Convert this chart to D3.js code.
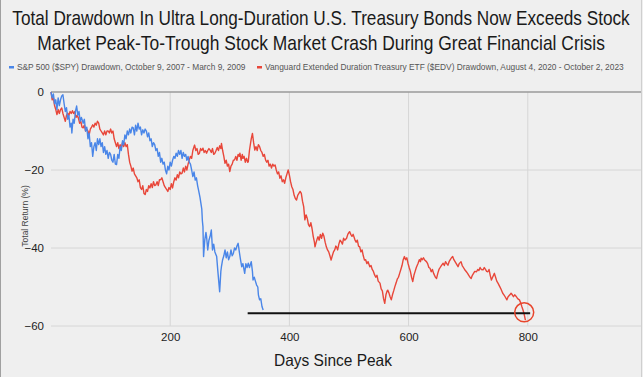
<!DOCTYPE html>
<html>
<head>
<meta charset="utf-8">
<script src="https://cdnjs.cloudflare.com/ajax/libs/d3/7.8.5/d3.min.js"></script>
<style>
  body { margin: 0; background: #efefef; }
  svg { display: block; font-family: "Liberation Sans", Arial, sans-serif; }
</style>
</head>
<body>
<div class="chart"></div>
<script>
// S&P 500 drawdown, trading days since peak (Oct 9 2007)
var spyDays = [0,2,4,6,8,10,12,14,16,18,20,22,24,26,28,30,32,34,35,37,39,41,43,45,47,49,51,54,56,58,60,62,64,66,68,70,72,74,76,78,80,82,84,86,88,90,92,94,96,98,100,102,104,106,108,110,112,114,116,118,120,122,124,126,128,130,132,134,136,138,140,142,144,146,148,150,152,154,156,158,160,162,164,166,168,170,172,174,176,178,180,182,184,186,188,190,192,194,196,198,200,202,204,206,208,210,212,214,216,218,220,222,224,226,228,230,232,234,236,238,240,242,244,246,248,250,252,253,254,255,256,258,260,261,263,265,267,269,271,273,275,278,280,283,285,286,288,290,292,294,296,298,300,302,304,306,308,310,312,314,316,318,320,322,325,327,329,331,333,336,338,339,341,343,345,347,348,350,352,354,356];
var spyValues = [0,-1.5,-0.5,-3,-2,-4.5,-1.5,-3.5,-2,-1,-0.7,-3,-5,-4,-7,-6,-9,-8,-10.5,-7,-8,-5,-3.6,-6,-5,-7.5,-6.5,-8,-7,-10,-9,-12,-10.5,-14,-13,-16.5,-14,-13,-15,-12,-13.5,-12,-14,-13,-15.5,-14,-16,-15,-17,-15.5,-16,-17.5,-18,-16,-18.5,-18.6,-16,-17,-14,-15,-12.5,-13.5,-11,-12,-10,-11,-9.5,-10.5,-9,-9.2,-11,-8.5,-10,-8,-9.5,-9,-11,-9.7,-10.5,-9.5,-10,-11.5,-10.5,-12.5,-12,-14,-13,-13.5,-15,-14.5,-16.5,-15.5,-18,-17,-18.5,-18,-20,-21,-19,-20,-18,-19,-17.5,-16.5,-17,-15.7,-16.5,-15,-16,-15,-17,-15.5,-16.5,-16,-17.5,-16.5,-18,-18.5,-20,-21.7,-20.5,-22.6,-22,-24,-25.5,-27,-29,-30,-33,-34.6,-42.2,-38,-36,-37,-40.5,-38,-37,-35.4,-40.5,-39,-41,-42.2,-46,-51.2,-46,-44.8,-43,-42,-40.5,-42.5,-41,-43,-42.2,-40.5,-42,-41.4,-40,-40.5,-39.5,-38.8,-41,-43,-44.8,-44,-46.5,-44,-45,-43.9,-45,-43.5,-46,-48.2,-47.5,-48.5,-49.5,-50,-52,-53.3,-53,-55,-55.9];

// EDV drawdown, trading days since peak (Aug 4 2020)
var edvDays = [0,2,4,6,8,10,12,14,16,18,20,22,24,26,28,30,32,34,36,38,40,42,44,46,48,50,52,54,56,58,60,62,64,66,68,70,72,74,76,78,80,82,84,86,88,90,92,94,96,98,100,102,104,106,108,110,112,114,116,118,120,122,124,126,128,130,132,134,136,138,140,142,144,146,148,150,152,154,156,158,160,162,164,166,168,170,172,174,176,178,180,182,184,186,188,190,192,194,196,198,200,202,204,206,208,210,212,214,216,218,220,222,224,226,228,230,232,234,236,238,240,241,243,245,247,249,251,253,255,257,259,261,263,265,267,269,271,273,275,277,279,281,283,285,286,288,290,292,294,296,298,300,302,304,306,308,310,312,314,316,317,319,321,322,324,326,328,330,331,333,335,336,338,340,342,344,346,348,350,352,354,356,358,360,362,364,366,368,370,372,374,376,378,380,382,384,386,388,390,392,394,396,398,400,402,404,406,408,410,412,414,416,418,420,422,424,426,428,430,432,434,436,438,440,442,443,445,447,448,450,452,454,456,458,460,462,464,466,468,470,472,474,476,478,479,481,483,485,487,489,491,493,496,498,500,501,503,505,507,510,512,514,516,518,520,522,524,526,528,530,532,535,537,539,541,543,545,547,549,552,554,556,558,560,562,564,565,567,569,571,573,575,577,579,581,583,585,587,589,591,593,595,597,599,601,603,605,607,609,611,613,616,618,620,621,623,625,627,630,632,634,636,638,640,642,645,647,649,651,653,655,658,660,662,664,666,668,670,672,674,676,678,680,683,685,688,690,692,694,697,699,701,703,705,707,709,711,714,716,718,720,722,725,727,729,731,733,735,737,739,741,744,746,748,750,753,755,758,760,762,765,767,770,772,774,776,778,781,783,786,788,790,792,794,796];
var edvValues = [0,-2,-1.5,-3.5,-4.5,-5.8,-4.5,-5.5,-4.5,-4.1,-5.5,-6.5,-7.5,-6,-5.4,-6,-5,-5.5,-4.8,-5.5,-5,-6.5,-6,-6.7,-8,-7.5,-9,-9.2,-8.5,-10,-9.5,-10,-11,-9.5,-9,-8.4,-9,-8,-8.5,-7.5,-8,-9.5,-10,-10.5,-11,-10,-11,-10,-10,-10.5,-9.5,-10.5,-10,-12,-13,-14,-13,-14.5,-13.5,-14.4,-13,-14,-13,-14,-13.5,-16,-18,-19,-20.3,-19.5,-21,-21.5,-22,-23,-22.5,-24.5,-25,-24,-26,-26.3,-25,-25.5,-24,-24.6,-23.5,-24.5,-23,-24,-23.8,-23,-24,-22.5,-22.5,-22,-23,-24,-24.5,-25,-25.5,-24.5,-25,-23.5,-24.6,-23,-22,-22.6,-21.2,-22,-20.5,-21,-20.8,-19.5,-20.5,-19,-20,-18.5,-17.4,-16.5,-17,-15,-14,-13.6,-15,-14.5,-16,-15.7,-14.5,-15,-14.4,-15.5,-15,-15.7,-15,-14.5,-14.9,-15.5,-14.5,-16,-15.7,-15,-14.2,-15,-13.8,-14.5,-13.2,-15,-16.5,-18.3,-17.5,-19,-18.5,-20.4,-19,-18.5,-17.5,-17.4,-16.5,-17.5,-16,-16.5,-15.7,-17.5,-16,-17,-16.5,-18,-17,-18,-17.9,-15,-13,-12,-10.6,-13,-14.9,-14,-15,-13.5,-14,-15,-15.5,-16.5,-16,-17.4,-18,-17.5,-19,-18.5,-19.5,-18.5,-19,-18.7,-20,-21,-20.5,-22.1,-21.5,-23,-22.5,-23.4,-22,-21,-20,-21.3,-23,-24.3,-25,-26.5,-27.3,-27.7,-26.5,-26,-25.5,-26,-28,-29.4,-32.8,-31.5,-32.4,-34,-34.5,-33.5,-35,-37,-38.5,-39.7,-38.5,-37.5,-37.1,-38,-36.5,-37.5,-36.2,-37,-38.5,-39.7,-40.5,-41,-42,-43.1,-42,-41,-40.5,-39.5,-39.7,-40.5,-39,-38,-38.4,-39,-37.5,-38,-37.5,-36.5,-36,-35.8,-36.5,-37,-36.5,-37.9,-38.5,-38,-39.5,-39.7,-41,-40.5,-42,-43.1,-43,-44,-43.5,-44.8,-44.5,-45.5,-46,-46.9,-47.5,-47,-48.5,-49,-50.5,-51,-53,-54.2,-52,-51,-50.8,-51.5,-52.5,-53.3,-52,-51,-49.9,-49,-48,-47.5,-46.5,-45.5,-44.5,-43,-42.2,-43,-42.5,-43.9,-45,-46,-47.5,-48.6,-47,-46,-45,-43.9,-43,-43.5,-42.6,-43,-42.5,-43.1,-43.5,-44,-45,-45.2,-46.1,-45.5,-46.5,-47.5,-47.8,-46.5,-45.5,-45,-44.5,-43.9,-44.5,-43.5,-44,-44.4,-43.5,-43,-42.5,-42.2,-43,-43.5,-44,-44.8,-44,-43.5,-44.5,-45,-45.5,-46.1,-46.5,-47,-47.5,-47.8,-47,-46.5,-46,-46.1,-45.5,-45.8,-45,-45.5,-45.6,-45,-45.5,-46,-46.1,-45.5,-47,-48.2,-47.5,-46.5,-47.5,-48.5,-49,-49.9,-50.5,-51.6,-52,-52.5,-53.3,-52.5,-52,-51.6,-52,-52.5,-52,-52.5,-53,-53.3,-54,-55,-55.9,-57,-58.5];

var yTicks = [0, -20, -40, -60];
var xTicks = [200, 400, 600, 800];
var titleLines = ["Total Drawdown In Ultra Long-Duration U.S. Treasury Bonds Now Exceeds Stock",
                  "Market Peak-To-Trough Stock Market Crash During Great Financial Crisis"];
var legendLabels = ["S&P 500 ($SPY) Drawdown, October 9, 2007 - March 9, 2009",
                    "Vanguard Extended Duration Treasury ETF ($EDV) Drawdown, August 4, 2020 - October 2, 2023"];
// black reference line (troughs) and circled end point
var refLine = {from: 330, to: 804, value: -56.7};
var markPoint = {day: 794, value: -56.5};

var width = 643, height = 377;
var blue = "#4a86e8", red = "#e8473a";

var svg = d3.select(".chart").append("svg").attr("width", width).attr("height", height);
svg.append("rect").attr("width", width).attr("height", height).attr("fill", "#efefef");

var x = d3.scaleLinear().domain([0, 990]).range([51, 641]);
var y = d3.scaleLinear().domain([-60, 0]).range([326, 92]);

// squeeze a text horizontally so it spans `w` px (reference uses a narrower face)
var squeeze = function(sel, tx, ty, w, rot) {
  sel.each(function() {
    var natural = this.getComputedTextLength();
    var k = Math.min(1, w / natural);
    d3.select(this).attr("transform", "translate(" + tx + "," + ty + ")" + (rot ? " rotate(" + rot + ")" : "") + " scale(" + k + ",1)");
  });
};

// gridlines
svg.append("g").selectAll("line").data(xTicks).enter().append("line")
  .attr("x1", function(d) { return x(d); }).attr("x2", function(d) { return x(d); })
  .attr("y1", y(0)).attr("y2", y(-60))
  .attr("stroke", "#d6d6d6").attr("stroke-width", 1);
svg.append("g").selectAll("line").data(yTicks).enter().append("line")
  .attr("x1", x(0)).attr("x2", 641)
  .attr("y1", function(d) { return y(d); }).attr("y2", function(d) { return y(d); })
  .attr("stroke", function(d) { return d === 0 ? "#9a9a9a" : "#d6d6d6"; })
  .attr("stroke-width", function(d) { return d === 0 ? 1.5 : 1; });

// axes (labels only)
var yAxis = svg.append("g").attr("transform", "translate(" + x(0) + ",0)")
  .call(d3.axisLeft(y).tickValues(yTicks).tickSize(0).tickPadding(7));
var xAxis = svg.append("g").attr("transform", "translate(0," + y(-60) + ")")
  .call(d3.axisBottom(x).tickValues(xTicks).tickSize(0).tickPadding(7));
[yAxis, xAxis].forEach(function(a) {
  a.select(".domain").remove();
  a.selectAll("text").attr("font-size", 11.5).attr("fill", "#222")
    .attr("font-family", "Liberation Sans, Arial, sans-serif");
});

// series
var line = d3.line().x(function(d) { return x(d[0]); }).y(function(d) { return y(d[1]); });
var edv = d3.zip(edvDays, edvValues);
var spy = d3.zip(spyDays, spyValues);
svg.append("path").datum(edv).attr("d", line).attr("fill", "none")
  .attr("stroke", red).attr("stroke-width", 1.4).attr("stroke-linejoin", "round");
svg.append("path").datum(spy).attr("d", line).attr("fill", "none")
  .attr("stroke", blue).attr("stroke-width", 1.4).attr("stroke-linejoin", "round");

// annotations
svg.append("line").attr("x1", x(refLine.from)).attr("x2", x(refLine.to))
  .attr("y1", y(refLine.value)).attr("y2", y(refLine.value))
  .attr("stroke", "#111").attr("stroke-width", 2);
svg.append("circle").attr("cx", x(markPoint.day)).attr("cy", y(markPoint.value)).attr("r", 9.5)
  .attr("fill", "none").attr("stroke", "#e8452c").attr("stroke-width", 1.5);

// title
var titleWidths = [618, 568];
svg.append("g").selectAll("text").data(titleLines).enter().append("text")
  .attr("text-anchor", "middle").attr("font-size", 20).attr("fill", "#1a1a1a")
  .text(function(d) { return d; })
  .each(function(d, i) { squeeze(d3.select(this), 321, 25 + i * 25, titleWidths[i]); });

// legend
var legendX = [9, 257];
var legendWidths = [229, 359];
var lg = svg.append("g").selectAll("g").data(legendLabels).enter().append("g")
  .attr("transform", function(d, i) { return "translate(" + legendX[i] + ",67)"; });
lg.append("rect").attr("x", 0).attr("y", -1).attr("width", 5).attr("height", 2.5)
  .attr("fill", function(d, i) { return i === 0 ? blue : red; });
lg.append("text").attr("font-size", 9).attr("fill", "#555")
  .text(function(d) { return d; })
  .each(function(d, i) { squeeze(d3.select(this), 8, 3, legendWidths[i]); });

// axis titles
svg.append("text").attr("text-anchor", "middle").attr("font-size", 8.5).attr("fill", "#444")
  .text("Total Return (%)")
  .call(squeeze, 28, 216, 62, -90);
svg.append("text").attr("text-anchor", "middle").attr("font-size", 16.5).attr("fill", "#1a1a1a")
  .text("Days Since Peak")
  .call(squeeze, 333, 366, 118);

// frame edges
svg.append("line").attr("x1", 0.5).attr("x2", 0.5).attr("y1", 0).attr("y2", height).attr("stroke", "#a0a0a0");
svg.append("line").attr("x1", 641.5).attr("x2", 641.5).attr("y1", 0).attr("y2", height).attr("stroke", "#cfcfcf");
</script>
</body>
</html>
